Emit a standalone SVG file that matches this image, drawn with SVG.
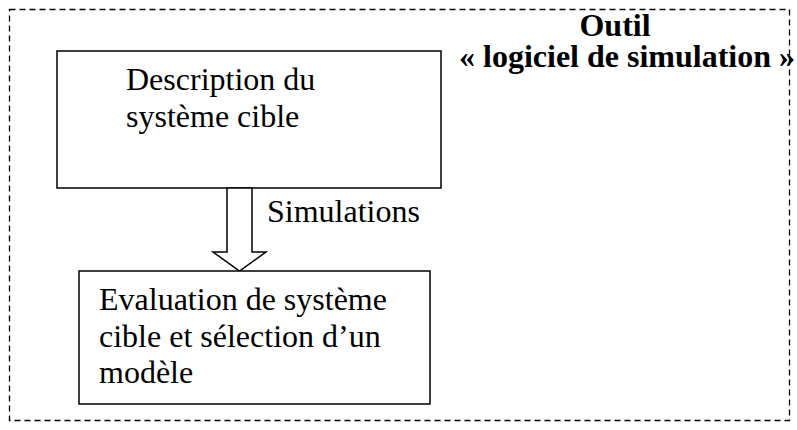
<svg xmlns="http://www.w3.org/2000/svg" width="797" height="430" viewBox="0 0 797 430">
<style>
.box{fill:#fff;stroke:#000;stroke-width:1.5}
</style>
<rect width="797" height="430" fill="#fff"/>
<g id="outil">
<rect x="9.5" y="9.5" width="780" height="411" fill="none" stroke="#000" stroke-width="1.3" stroke-dasharray="6,4"/>
<text font-family="Liberation Serif, Times New Roman, serif" font-size="32" font-weight="bold"><tspan x="615" y="36" text-anchor="middle">Outil</tspan><tspan x="459" y="67" text-anchor="start">« logiciel de simulation »</tspan></text>
</g>
<g id="description">
<rect class="box" x="57" y="51" width="384" height="137"/>
<text x="126" y="90" font-family="Liberation Serif, Times New Roman, serif" font-size="32">Description du</text>
<text x="126" y="127" font-family="Liberation Serif, Times New Roman, serif" font-size="32">système cible</text>
</g>
<g id="connectors">
<path d="M227,188 L227,252 L213,252 L239.5,271 L266,252 L252,252 L252,188 Z" fill="#fff" stroke="#000" stroke-width="1.5"/>
<text x="267" y="222" font-family="Liberation Serif, Times New Roman, serif" font-size="32">Simulations</text>
</g>
<g id="evaluation">
<rect class="box" x="79" y="271" width="351" height="133"/>
<text x="99" y="310" font-family="Liberation Serif, Times New Roman, serif" font-size="32">Evaluation de système</text>
<text x="99" y="347" font-family="Liberation Serif, Times New Roman, serif" font-size="32">cible et sélection d’un</text>
<text x="99" y="383" font-family="Liberation Serif, Times New Roman, serif" font-size="32">modèle</text>
</g>
</svg>
